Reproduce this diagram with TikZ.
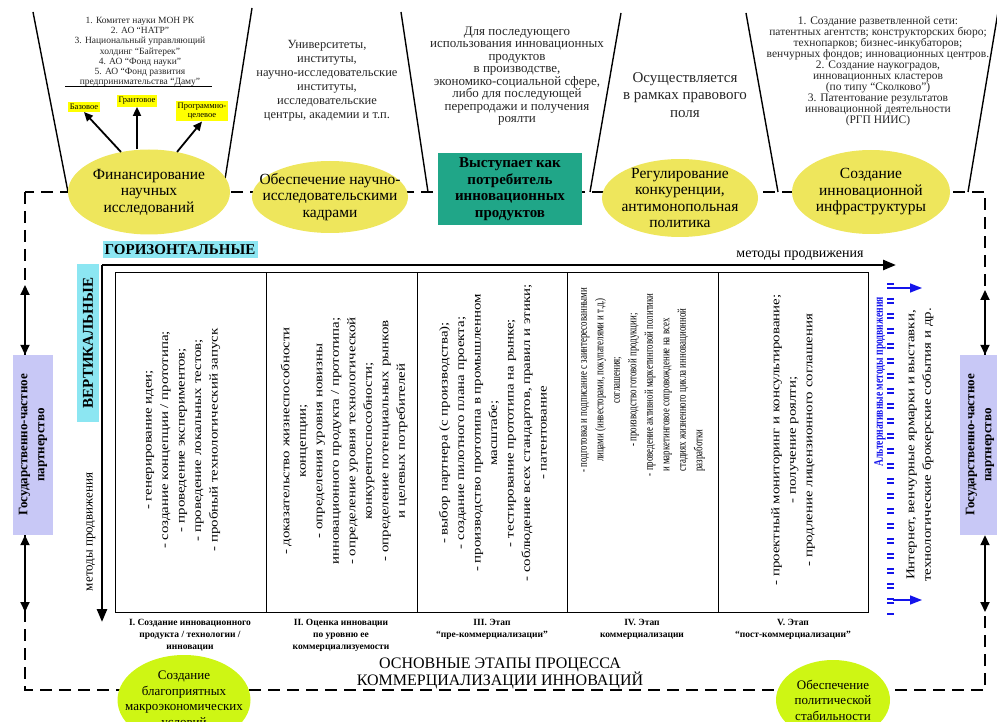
\documentclass[tikz,border=0pt]{standalone}
\usepackage{fontspec}
\setmainfont{Liberation Serif}
\newfontfamily\colfont{Liberation Serif}[FakeStretch=1.24]
\newfontfamily\colfontnarrow{Liberation Serif}[FakeStretch=0.74]
\usetikzlibrary{shapes.geometric,arrows.meta,positioning,calc}
\definecolor{ellyellow}{RGB}{238,230,92}
\definecolor{boxteal}{RGB}{32,166,136}
\definecolor{tagyellow}{RGB}{255,255,0}
\definecolor{labcyan}{RGB}{140,230,242}
\definecolor{ppplav}{RGB}{200,200,246}
\definecolor{ballgreen}{RGB}{206,246,20}
\definecolor{altblue}{RGB}{20,20,235}

\begin{document}
\begin{tikzpicture}[x=1pt, y=-1pt,
    topell/.style={ellipse, fill=ellyellow, inner sep=0pt},
    botell/.style={ellipse, fill=ballgreen, inner sep=0pt},
    elltext/.style={align=center, font=\fontsize{15.5}{16.5}\selectfont},
    balltext/.style={align=center, font=\fontsize{13}{15.5}\selectfont},
    note/.style={align=center, text=black!85},
    tag/.style={fill=tagyellow, inner sep=2pt, align=center, font=\fontsize{8.5}{9.5}\selectfont},
    funnel/.style={line width=1.4pt},
    outerdash/.style={line width=2.4pt, dash pattern=on 12pt off 7pt},
    tagarr/.style={-{Triangle[length=9pt,width=8pt]}, line width=1.8pt},
    dblarr/.style={{Triangle[length=10pt,width=9pt]}-{Triangle[length=10pt,width=9pt]}, line width=1.8pt},
    mainarr/.style={-{Triangle[length=13pt,width=10pt]}, line width=2.6pt},
    cyanlab/.style={fill=labcyan, inner sep=1pt, font=\bfseries\fontsize{15}{15}\selectfont},
    pppbox/.style={fill=ppplav, rotate=90, minimum width=180, minimum height=40, inner sep=1pt,
                   align=center, font=\bfseries\fontsize{13}{17}\selectfont},
    coltext/.style={rotate=90, align=center, font=\colfont\fontsize{12}{16.5}\selectfont},
    stagelab/.style={align=center, font=\bfseries\fontsize{9.5}{12}\selectfont}
]
\useasboundingbox (0,0) rectangle (997,722);

% outer dashed frame
\draw[outerdash] (25,192) rectangle (985,690);

% funnels
\draw[funnel] (33,12) -- (68,192);
\draw[funnel] (252,8) -- (223,192);
\draw[funnel] (401,12) -- (428,192);
\draw[funnel] (621,13) -- (590,192);
\draw[funnel] (746,13) -- (778,192);
\draw[funnel] (998,12) -- (968,192);

% texts in the funnels
\node[note, font=\fontsize{9.5}{10.2}\selectfont] (org) at (140,52)
  {1. Комитет науки МОН РК\\2. АО “НАТР”\\3. Национальный управляющий\\холдинг “Байтерек”\\
   4. АО “Фонд науки”\\5. АО “Фонд развития\\предпринимательства “Даму”};
\draw[line width=1pt] (65,87) -- (212,87);
\node[note, font=\fontsize{12.5}{14}\selectfont] (univ) at (327,81)
  {Университеты,\\институты,\\научно-исследовательские\\институты,\\исследовательские\\центры, академии и т.п.};
\node[note, font=\fontsize{13}{12.5}\selectfont] (use) at (517,76)
  {Для последующего\\использования инновационных\\продуктов\\в производстве,\\экономико-социальной сфере,\\
   либо для последующей\\перепродажи и получения\\роялти};
\node[note, font=\fontsize{15}{17.5}\selectfont] (law) at (685,95)
  {Осуществляется\\в рамках правового\\поля};
\node[note, font=\fontsize{11.5}{11}\selectfont] (infra) at (878,71)
  {1. Создание разветвленной сети:\\патентных агентств; конструкторских бюро;\\технопарков; бизнес-инкубаторов;\\
   венчурных фондов; инновационных центров.\\2. Создание наукоградов,\\инновационных кластеров\\
   (по типу “Сколково”)\\3. Патентование результатов\\инновационной деятельности\\(РГП НИИС)};

% yellow tags
\node[tag] (base) at (84,107) {Базовое};
\node[tag] (grant) at (137,101) {Грантовое};
\node[tag] (prog) at (202,111) {Программно-\\целевое};

% state roles
\node[topell, minimum width=162, minimum height=85,
      label={[elltext]center:Финансирование\\научных\\исследований}] (fin) at (149,192) {};
\node[topell, minimum width=156, minimum height=72,
      label={[elltext]center:Обеспечение научно-\\исследовательскими\\кадрами}] (staff) at (330,197) {};
\node[fill=boxteal, minimum width=144, minimum height=72, inner sep=0pt, align=center,
      font=\bfseries\fontsize{15}{16.5}\selectfont] (buyer) at (510,189)
  {Выступает как\\потребитель\\инновационных\\продуктов};
\node[topell, minimum width=156, minimum height=78,
      label={[elltext]center:Регулирование\\конкуренции,\\антимонопольная\\политика}] (comp) at (680,198) {};
\node[topell, minimum width=158, minimum height=84,
      label={[elltext]center:Создание\\инновационной\\инфраструктуры}] (infr) at (871,192) {};

\draw[tagarr] (fin.125) -- (base.south);
\draw[tagarr] (grant.south |- fin.north) -- (grant.south);
\draw[tagarr] (fin.55) -- (prog.south);

% side partnership boxes
\node[pppbox] (pppl) at (33,445) {Государственно-частное\\партнерство};
\node[pppbox] (pppr) at (980,445) {Государственно-частное\\партнерство};
\coordinate (lt) at (25,285);
\coordinate (lb) at (25,612);
\coordinate (rt) at (985,290);
\coordinate (rb) at (985,612);
\draw[dblarr] (lt) -- (lt |- pppl.east);
\draw[dblarr] (lb |- pppl.west) -- (lb);
\draw[dblarr] (rt) -- (rt |- pppr.east);
\draw[dblarr] (rb |- pppr.west) -- (rb);

% promotion axes
\coordinate (o) at (102,265);
\coordinate (hx) at (896,265);
\coordinate (vy) at (102,622);
\draw[mainarr] (o) -- (hx);
\draw[mainarr] (o) -- (vy);
\node[font=\fontsize{14}{14}\selectfont, anchor=south] (hlab) at (800,264) {методы продвижения};
\node[font=\fontsize{13}{13}\selectfont, rotate=90] (vlab) at (91,532) {методы продвижения};
\node[cyanlab, minimum width=155, minimum height=17] (horiz) at (180,250) {ГОРИЗОНТАЛЬНЫЕ};
\node[cyanlab, rotate=90, minimum width=157, minimum height=22] (vert) at (88,343) {ВЕРТИКАЛЬНЫЕ};

% stages
\draw[line width=1pt] (115,273) rectangle (868,612);
\foreach \sx in {266,417,567,718}
  \draw[line width=1pt] (\sx,273) -- (\sx,612);

\node[coltext] (c1) at (183,440)
  {- генерирование идеи;\\- создание концепции / прототипа;\\- проведение экспериментов;\\
   - проведение локальных тестов;\\- пробный технологический запуск};
\node[coltext] (c2) at (344,441)
  {- доказательство жизнеспособности\\концепции;\\- определения уровня новизны\\
   инновационного продукта / прототипа;\\- определение уровня технологической\\
   конкурентоспособности;\\- определение потенциальных рынков\\и целевых потребителей};
\node[coltext] (c3) at (493,433)
  {- выбор партнера (с производства);\\- создание пилотного плана проекта;\\
   - производство прототипа в промышленном\\масштабе;\\- тестирование прототипа на рынке;\\
   - соблюдение всех стандартов, правил и этики;\\- патентование};
\node[coltext, font=\colfontnarrow\fontsize{12}{16.5}\selectfont] (c4) at (643,380)
  {- подготовка и подписание с заинтересованными\\лицами (инвесторами, покупателями и т.д.)\\
   соглашения;\\- производство готовой продукции;\\
   \makebox[192pt][l]{- проведение активной маркетинговой политики}\\
   \makebox[192pt][l]{\ \ и маркетинговое сопровождение на всех}\\
   \makebox[192pt][l]{\ \ стадиях жизненного цикла инновационной}\\
   \makebox[192pt][l]{\ \ разработки}};
\node[coltext] (c5) at (793,440)
  {- проектный мониторинг и консультирование;\\- получение роялти;\\- продление лицензионного соглашения};

\node[stagelab] (s1) at (190,635) {I. Создание инновационного\\продукта / технологии /\\инновации};
\node[stagelab] (s2) at (341,635) {II. Оценка инновации\\по уровню ее\\коммерциализуемости};
\node[stagelab] (s3) at (492,629) {III. Этап\\“пре-коммерциализации”};
\node[stagelab] (s4) at (642,629) {IV. Этап\\коммерциализации};
\node[stagelab] (s5) at (793,629) {V. Этап\\“пост-коммерциализации”};

% alternative promotion
\draw[altblue, line width=7pt, dash pattern=on 1.6pt off 2.4pt on 1.6pt off 9.4pt]
  (890,283) -- (890,616);
\coordinate (a1) at (893,288);
\coordinate (a2) at (922,288);
\coordinate (b1) at (893,600);
\coordinate (b2) at (922,600);
\draw[altblue, line width=1.6pt, -{Triangle[length=12pt,width=9pt]}] (a1) -- (a2);
\draw[altblue, line width=1.6pt, -{Triangle[length=12pt,width=9pt]}] (b1) -- (b2);
\node[rotate=90, text=altblue, font=\bfseries\colfontnarrow\fontsize{13}{13}\selectfont] (alt) at (880,382)
  {Альтернативные методы продвижения};
\node[coltext] (media) at (920,445)
  {Интернет, венчурные ярмарки и выставки,\\технологические брокерские события и др.};

% bottom title and conditions
\node[align=center, font=\fontsize{16}{17}\selectfont] (title) at (500,673)
  {ОСНОВНЫЕ ЭТАПЫ ПРОЦЕССА\\КОММЕРЦИАЛИЗАЦИИ ИННОВАЦИЙ};
\node[botell, minimum width=133, minimum height=90,
      label={[balltext]center:Создание\\благоприятных\\макроэкономических\\условий}] (macro) at (184,700) {};
\node[botell, minimum width=114, minimum height=80,
      label={[balltext]center:Обеспечение\\политической\\стабильности}] (polit) at (833,700) {};
\end{tikzpicture}
\end{document}
